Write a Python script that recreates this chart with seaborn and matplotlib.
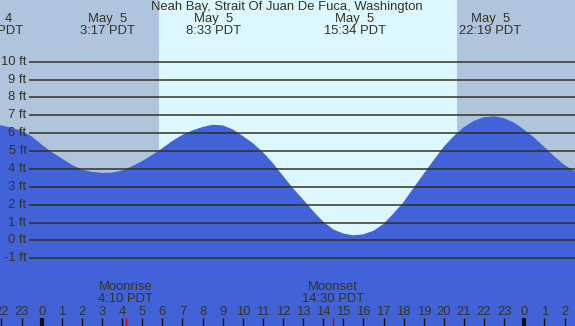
import matplotlib
matplotlib.use("Agg")
import matplotlib.pyplot as plt
import numpy as np
import seaborn as sns

title = "Neah Bay, Strait Of Juan De Fuca, Washington"

# tide height (ft) every half hour, hours from midnight May 5 PDT
tide_start = -2.5
tide_step = 0.5
tide_ft = [
    6.45, 6.40, 6.27, 6.11, 5.78, 5.32, 4.90, 4.55, 4.19, 3.93,
    3.80, 3.75, 3.76, 3.88, 4.12, 4.40, 4.75, 5.12, 5.53, 5.87,
    6.12, 6.31, 6.44, 6.40, 6.18, 5.80, 5.40, 4.89, 4.27, 3.56,
    2.86, 2.24, 1.59, 1.00, 0.58, 0.35, 0.25, 0.31, 0.50, 0.88,
    1.47, 2.10, 2.90, 3.68, 4.45, 5.20, 5.80, 6.30, 6.66, 6.86,
    6.91, 6.80, 6.55, 6.15, 5.70, 5.18, 4.65, 4.17, 3.85, 3.55,
]

# high / low tide labels
event_hours = [-2.45, 3.283, 8.55, 15.567, 22.317]
event_days = ["May  4", "May  5", "May  5", "May  5", "May  5"]
event_times = ["21:33 PDT", "3:17 PDT", "8:33 PDT", "15:34 PDT", "22:19 PDT"]

sunrise_hour = 5.83
sunset_hour = 20.65

moon_hours = [4.167, 14.5]
moon_names = ["Moonrise", "Moonset"]
moon_times = ["4:10 PDT", "14:30 PDT"]

grid_ft = [-1, 0, 1, 2, 3, 4, 5, 6, 7, 8, 9, 10]
tick_hours = list(range(-2, 27))

x_min, x_max = -2.074, 26.52
y_min, y_max = -4.79, 13.45

night_color = "#B0C4DE"
day_color = "#DDF7FF"
water_color = "#4262D8"
ink = "#333320"
fs = 9.4

sns.set_theme(style="white")
plt.rcParams["font.family"] = ["Liberation Sans", "DejaVu Sans"]

fig = plt.figure(figsize=(5.75, 3.26), dpi=100)
ax = fig.add_axes([0, 0, 1, 1])
ax.set_xlim(x_min, x_max)
ax.set_ylim(y_min, y_max)
ax.set_axis_off()

ax.axvspan(x_min, x_max, color=day_color, zorder=0)
ax.axvspan(x_min, sunrise_hour, color=night_color, zorder=0.5, lw=0)
ax.axvspan(sunset_hour, x_max, color=night_color, zorder=0.5, lw=0)

hours = tide_start + tide_step * np.arange(len(tide_ft))
ax.fill_between(hours, tide_ft, y_min, color=water_color, lw=0, zorder=1)
sns.lineplot(x=hours, y=tide_ft, ax=ax, color=water_color, lw=0.8, zorder=1.1)

for ft in grid_ft:
    ax.hlines(ft, -0.62, x_max, color=ink, lw=1.1, zorder=2)
    ax.text(-0.75, ft, f"{ft} ft", ha="right", va="center", fontsize=fs, color=ink, zorder=3)

ax.text(12.2, 13.05, title, ha="center", va="center", fontsize=fs, color=ink, zorder=3)
for h, day, t in zip(event_hours, event_days, event_times):
    ax.text(h, 12.37, day, ha="center", va="center", fontsize=fs, color=ink, zorder=3)
    ax.text(h, 11.70, t, ha="center", va="center", fontsize=fs, color=ink, zorder=3)

for h, name, t in zip(moon_hours, moon_names, moon_times):
    ax.text(h, -2.62, name, ha="center", va="center", fontsize=fs, color=ink, zorder=3)
    ax.text(h, -3.29, t, ha="center", va="center", fontsize=fs, color=ink, zorder=3)
    ax.vlines(h, y_min, -4.34, color="#DD0000", lw=1, zorder=3)

for h in tick_hours:
    ax.text(h, -4.0, str(h % 24), ha="center", va="center", fontsize=fs, color=ink, zorder=3)
    ax.vlines(h, y_min, -4.34, color="#111111", lw=3 if h % 24 == 0 else 1, zorder=3)

fig.savefig("out.png", dpi=100)
